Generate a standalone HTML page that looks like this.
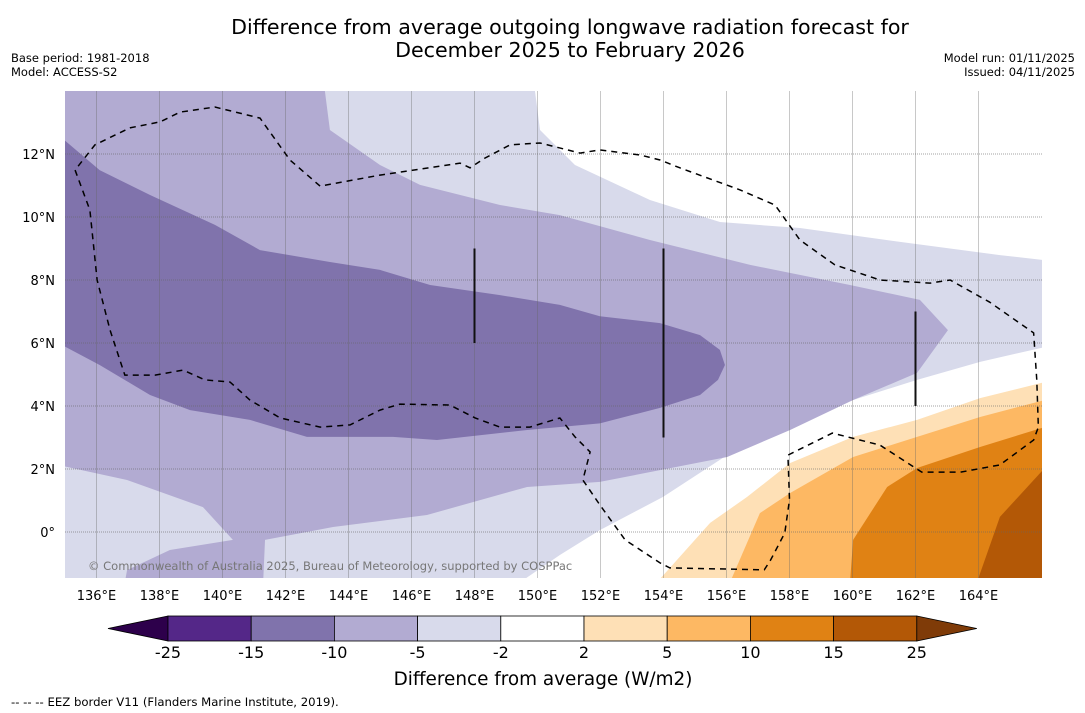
<!DOCTYPE html>
<html><head><meta charset="utf-8">
<style>
html,body{margin:0;padding:0;background:#fff;width:1085px;height:713px;overflow:hidden}
svg{display:block;font-family:"DejaVu Sans","Liberation Sans",sans-serif}
</style></head>
<body>
<svg id="chart" width="1085" height="713" viewBox="0 0 1085 713">
  <text x="570" y="34" font-size="20.6" text-anchor="middle" fill="#000">Difference from average outgoing longwave radiation forecast for</text>
  <text x="570" y="57" font-size="20.6" text-anchor="middle" fill="#000">December 2025 to February 2026</text>
  <text x="11" y="62" font-size="11.5" fill="#000">Base period: 1981-2018</text>
  <text x="11" y="76" font-size="11.5" fill="#000">Model: ACCESS-S2</text>
  <text x="1075" y="62" font-size="11.5" text-anchor="end" fill="#000">Model run: 01/11/2025</text>
  <text x="1075" y="76" font-size="11.5" text-anchor="end" fill="#000">Issued: 04/11/2025</text>
  <defs><clipPath id="mapclip"><rect x="65" y="91" width="977" height="487"/></clipPath></defs>
  <g id="map" clip-path="url(#mapclip)"></g>
  <g id="grid"></g>
  <g id="eez"></g>
  <text x="88" y="570" font-size="11.5" fill="#777">© Commonwealth of Australia 2025, Bureau of Meteorology, supported by COSPPac</text>
  <g id="axes"></g>
  <g id="cbar"></g>
  <text x="543" y="685" font-size="18.4" text-anchor="middle" fill="#000">Difference from average (W/m2)</text>
  <text x="11" y="706" font-size="11.7" fill="#000">--  --  -- EEZ border V11 (Flanders Marine Institute, 2019).</text>
</svg>
<script>
const lonTicks=[136,138,140,142,144,146,148,150,152,154,156,158,160,162,164];
const latTicks=[0,2,4,6,8,10,12];
const levels=[-25,-15,-10,-5,-2,2,5,10,15,25];
const levelColors=['#542788','#8073ac','#b2abd2','#d8daeb','#ffffff','#fee0b6','#fdb863','#e08214','#b35806'];
const whiteUpper=[[149.92,14],[150.08,12.76],[151.19,11.65],[153.57,10.54],[155.79,9.84],[158.33,9.65],[161.51,9.21],[164.68,8.79],[166.1,8.63],[166.1,14]];
const whiteLower=[[166.1,5.87],[164.05,5.40],[162.05,4.83],[160.02,4.19],[158.02,3.33],[156.02,2.44],[153.98,1.11],[151.98,0.06],[150.71,-0.73],[149.44,-1.6],[166.1,-1.6]];
const orange2=[[153.79,-1.6],[155.48,0.29],[156.65,1.11],[158.02,2.19],[160.02,3.02],[162.05,3.56],[164.05,4.25],[166.1,4.76],[166.1,-1.6]];
const orange5=[[156.11,-1.6],[157.06,0.60],[158.02,1.24],[160.02,2.38],[162.05,3.02],[164.05,3.65],[166.1,4.19],[166.1,-1.6]];
const orange10=[[159.92,-1.6],[160.02,-0.25],[161.10,1.43],[162.05,2.03],[164.05,2.70],[166.1,3.33],[166.1,-1.6]];
const orange15=[[163.95,-1.6],[164.68,0.48],[166.1,2.03],[166.1,-1.6]];
const purple5=[[134.9,14],[143.25,14],[143.41,12.76],[145,11.65],[146.27,11.02],[148.81,10.38],[150.71,10.06],[153.57,9.27],[156.75,8.48],[159.92,7.84],[162.14,7.37],[163.03,6.41],[162.05,5.05],[160.02,4.19],[158.02,3.24],[156.02,2.38],[151.98,1.59],[149.67,1.43],[146.49,0.54],[143.51,0.16],[141.35,-0.25],[141.29,-1.6],[136.90,-1.6],[136.97,-1.21],[138.33,-0.57],[140.33,-0.25],[139.38,0.79],[136.97,1.65],[134.9,2.1]];
const purple10=[[134.9,12.51],[136.1,11.49],[137.7,10.70],[139.76,9.75],[141.19,8.95],[143.41,8.57],[145,8.32],[146.59,7.84],[148.81,7.52],[150.71,7.21],[151.98,6.85],[153.89,6.63],[155.16,6.25],[155.79,5.78],[155.95,5.30],[155.73,4.83],[155.16,4.35],[153.89,3.94],[151.98,3.45],[149.67,3.24],[146.81,2.92],[145.41,3.02],[142.68,3.02],[140.87,3.56],[138.97,3.87],[137.7,4.35],[136.1,5.30],[134.9,5.94]];
const eezLine=[[135.32,11.49],[135.79,10.22],[136.02,8.0],[136.43,6.41],[136.90,4.98],[137.86,4.98],[138.75,5.14],[139.44,4.83],[140.24,4.76],[140.87,4.19],[141.83,3.62],[143.10,3.33],[144.05,3.40],[145,3.87],[145.63,4.06],[147.22,4.03],[148.02,3.62],[148.81,3.33],[149.76,3.33],[150.71,3.62],[151.19,3.02],[151.67,2.54],[151.44,1.65],[151.98,0.86],[152.78,-0.25],[153.89,-0.98],[154.2,-1.14],[157.2,-1.2],[157.4,-0.89],[157.85,-0.03],[158.0,1.02],[157.95,2.44],[159.36,3.14],[160.87,2.76],[162.2,1.90],[163.43,1.90],[164.68,2.13],[165.75,2.92],[165.9,3.33],[165.85,4.83],[165.75,6.32],[164.35,7.30],[163.1,8.0],[162.46,7.90],[160.87,8.0],[159.44,8.48],[158.33,9.27],[157.54,10.38],[156.43,10.86],[154.52,11.56],[153.89,11.81],[153.25,11.97],[151.98,12.13],[151.35,12.03],[150.08,12.35],[149.13,12.29],[148.33,11.87],[147.86,11.56],[147.54,11.71],[145,11.33],[143.10,10.98],[142.14,11.81],[141.19,13.14],[139.76,13.49],[138.65,13.33],[138.02,13.02],[137.06,12.83],[135.95,12.29],[135.32,11.49]];
const vLineLons=[148,154,162];
const vLineFrom=[9,9,7];
const vLineTo=[6,3,4];

const NS='http://www.w3.org/2000/svg';
const X=lon=>65+(lon-135)*31.5;
const Y=lat=>91+(14-lat)*31.5;
function mk(tag,parent,attrs){const e=document.createElementNS(NS,tag);for(const k in attrs)e.setAttribute(k,attrs[k]);parent.appendChild(e);return e;}
const map=document.getElementById('map');
const bg=mk('rect',map,{x:65,y:91,width:977,height:487,fill:levelColors[3]});


const layers=[[whiteUpper,4,'white-region-north'],[whiteLower,4,'white-region-south'],[orange2,5,'contour-2-5'],[orange5,6,'contour-5-10'],[orange10,7,'contour-10-15'],[orange15,8,'contour-15-25'],[purple5,2,'contour-minus10-minus5'],[purple10,1,'contour-minus15-minus10']];
layers.forEach(([pts,ci,name])=>{
  const p=mk('polygon',map,{points:pts.map(q=>X(q[0])+','+Y(q[1])).join(' '),fill:levelColors[ci]});
  
  
});
const grid=document.getElementById('grid');
lonTicks.forEach(l=>{const g=mk('line',grid,{x1:X(l),x2:X(l),y1:91,y2:578,stroke:'#666','stroke-width':0.6,'stroke-opacity':0.6});
  
  });
latTicks.forEach(l=>{const g=mk('line',grid,{x1:65,x2:1042,y1:Y(l),y2:Y(l),stroke:'#666','stroke-width':0.8,'stroke-dasharray':'1,1','stroke-opacity':0.8});
  
  });
const eez=document.getElementById('eez');
const el=mk('polyline',eez,{points:eezLine.map(q=>X(q[0])+','+Y(q[1])).join(' '),fill:'none',stroke:'#000','stroke-width':1.5,'stroke-dasharray':'6,5'});


vLineLons.forEach((l,i)=>{const v=mk('line',eez,{x1:X(l),x2:X(l),y1:Y(vLineFrom[i]),y2:Y(vLineTo[i]),stroke:'#111','stroke-width':2});
  
  });
const axes=document.getElementById('axes');
lonTicks.forEach(l=>{const t=mk('text',axes,{x:X(l),y:600,'font-size':13,'text-anchor':'middle',fill:'#000'});t.textContent=l+'°E';
  
  });
latTicks.forEach(l=>{const t=mk('text',axes,{x:55,y:Y(l)+5,'font-size':13,'text-anchor':'end',fill:'#000'});t.textContent=l===0?'0°':l+'°N';
  
  });
const cb=document.getElementById('cbar');
const cx0=168,cw=83.2,cy=616,ch=25;
const tl=mk('polygon',cb,{points:`${cx0},${cy} 108,${cy+ch/2} ${cx0},${cy+ch}`,fill:'#2d004b',stroke:'#000','stroke-width':0.8});


levelColors.forEach((c,i)=>{const r=mk('rect',cb,{x:cx0+i*cw,y:cy,width:cw,height:ch,fill:c,stroke:'#000','stroke-width':0.8});
  
  });
const xe=cx0+levelColors.length*cw;
const tr=mk('polygon',cb,{points:`${xe},${cy} ${xe+60},${cy+ch/2} ${xe},${cy+ch}`,fill:'#7f3b08',stroke:'#000','stroke-width':0.8});


levels.forEach((v,i)=>{const t=mk('text',cb,{x:cx0+i*cw,y:658,'font-size':16,'text-anchor':'middle',fill:'#000'});t.textContent=v;
  
  });
</script>
</body></html>
